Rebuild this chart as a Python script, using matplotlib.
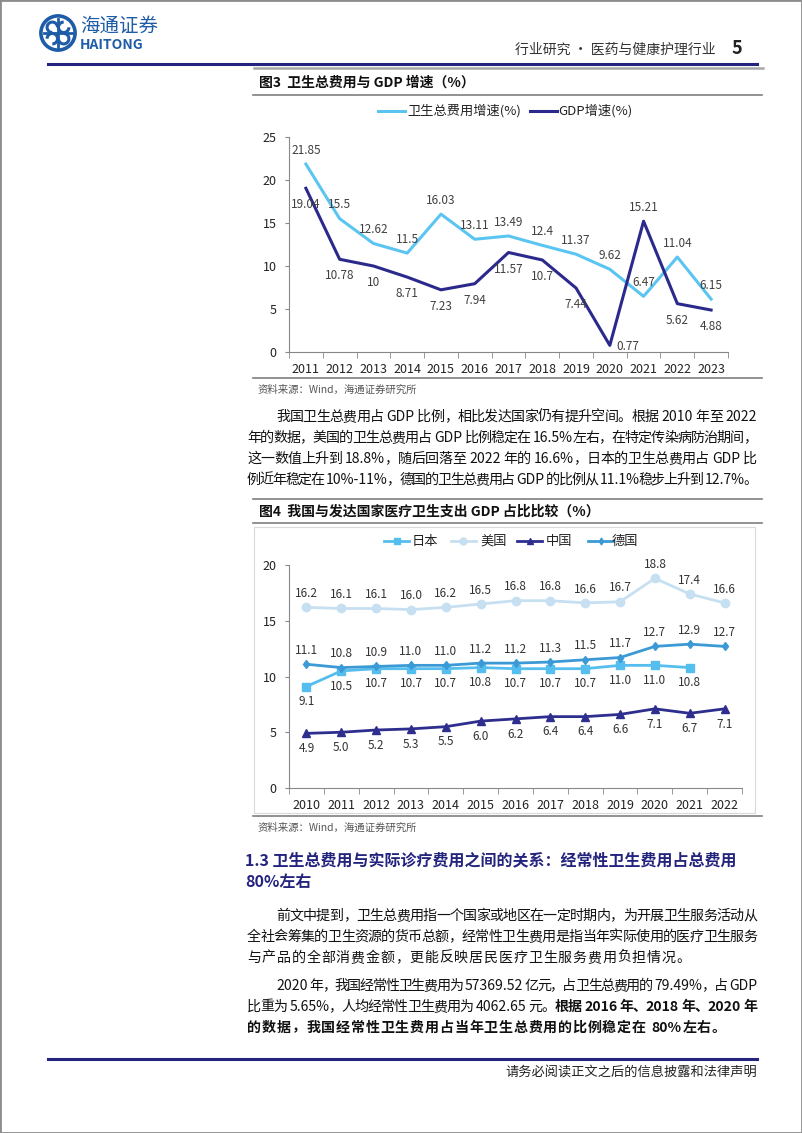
import re
import matplotlib
matplotlib.use('Agg')
import matplotlib.pyplot as plt
from matplotlib.lines import Line2D
from matplotlib.patches import Circle, Arc, Rectangle

plt.rcParams['font.family'] = ['Noto Sans CJK SC', 'DejaVu Sans']

# 图3 数据
years1 = ['2011', '2012', '2013', '2014', '2015', '2016', '2017', '2018', '2019', '2020', '2021', '2022', '2023']
health_growth = [21.85, 15.5, 12.62, 11.5, 16.03, 13.11, 13.49, 12.4, 11.37, 9.62, 6.47, 11.04, 6.15]
gdp_growth = [19.04, 10.78, 10, 8.71, 7.23, 7.94, 11.57, 10.7, 7.44, 0.77, 15.21, 5.62, 4.88]

# 图4 数据
years2 = ['2010', '2011', '2012', '2013', '2014', '2015', '2016', '2017', '2018', '2019', '2020', '2021', '2022']
japan = [9.1, 10.5, 10.7, 10.7, 10.7, 10.8, 10.7, 10.7, 10.7, 11.0, 11.0, 10.8]
usa = [16.2, 16.1, 16.1, 16.0, 16.2, 16.5, 16.8, 16.8, 16.6, 16.7, 18.8, 17.4, 16.6]
china = [4.9, 5.0, 5.2, 5.3, 5.5, 6.0, 6.2, 6.4, 6.4, 6.6, 7.1, 6.7, 7.1]
germany = [11.1, 10.8, 10.9, 11.0, 11.0, 11.2, 11.2, 11.3, 11.5, 11.7, 12.7, 12.9, 12.7]

W, H = 802, 1133
NAVY = '#24247E'
fig = plt.figure(figsize=(W / 100, H / 100), dpi=100)
renderer = fig.canvas.get_renderer()


def fx(x):
    return x / W


def fy(y):
    return 1 - y / H


def hline(x0, x1, y, color, lw):
    fig.add_artist(Line2D([fx(x0), fx(x1)], [fy(y), fy(y)], color=color, lw=lw))


def px_axes(x0, y0, x1, y1):
    return fig.add_axes([fx(x0), fy(y1), (x1 - x0) / W, (y1 - y0) / H])


def text_line(segs, x0, x1, y, size=10.1, justify=True, color='#111111'):
    # 简单的两端对齐：逐字放置
    toks = []
    for s, w in segs:
        for t in re.findall(r'\s+|[A-Za-z0-9.%\-]+|\S', s):
            toks.append((t, w))
    widths = []
    for t, w in toks:
        if t.isspace():
            widths.append(4.0)
        else:
            a = fig.text(0, 0, t, fontsize=size, fontweight=w)
            widths.append(a.get_window_extent(renderer).width)
            a.remove()
    gap = (x1 - x0 - sum(widths)) / (len(toks) - 1) if justify else 0.8
    x = x0
    for (t, w), wd in zip(toks, widths):
        if not t.isspace():
            fig.text(fx(x), fy(y + size * 0.45), t, fontsize=size, fontweight=w,
                     color=color, va='baseline', ha='left')
        x += wd + gap


# 页面边框
fig.add_artist(Rectangle((0, 0), 1, 1, transform=fig.transFigure, fill=False, ec='#8C8C8C', lw=2))

# 页眉 logo
lax = px_axes(39, 14, 77, 52)
lax.set_xlim(-1, 1)
lax.set_ylim(-1, 1)
lax.set_aspect('equal')
lax.axis('off')
blue = '#1E5CA8'
lax.add_patch(Circle((0, 0), 0.9, fill=False, ec=blue, lw=2.6))
for cx, cy, a in [(-0.3, 0.3, 0), (0.3, 0.3, 90), (0.3, -0.3, 180), (-0.3, -0.3, 270)]:
    lax.add_patch(Arc((cx, cy), 0.55, 0.55, theta1=a, theta2=a + 270, ec=blue, lw=2.2))
lax.plot([-0.75, 0.75], [0, 0], color=blue, lw=2)
lax.plot([0, 0], [-0.75, 0.75], color=blue, lw=2)
fig.text(fx(80), fy(26), '海通证券', fontsize=14, color=blue, va='center', ha='left', style='italic')
fig.text(fx(80), fy(45), 'HAITONG', fontsize=10, color=blue, va='center', ha='left', fontweight='bold')

fig.text(fx(716), fy(50), '行业研究 · 医药与健康护理行业', fontsize=10, color='#333333', va='center', ha='right')
fig.text(fx(737), fy(49), '5', fontsize=13, color='#222222', va='center', ha='center', fontweight='bold')
hline(48, 757, 64, NAVY, 2.2)
hline(254, 763, 68, '#A8A8A8', 1.8)

# ---------- 图3 ----------
fig.text(fx(259), fy(83), '图3  卫生总费用与 GDP 增速（%）', fontsize=10, fontweight='bold', va='center', ha='left', color='#111111')
hline(253, 762, 95, '#7F7F7F', 1.2)

c_health = '#5BC5F2'
c_gdp = '#2B2A8C'
fig.add_artist(Line2D([fx(378), fx(405)], [fy(111), fy(111)], color=c_health, lw=2.2))
fig.text(fx(407), fy(111), '卫生总费用增速(%)', fontsize=9.5, va='center', ha='left', color='#222222')
fig.add_artist(Line2D([fx(530), fx(557)], [fy(111), fy(111)], color=c_gdp, lw=2.2))
fig.text(fx(558), fy(111), 'GDP增速(%)', fontsize=9.5, va='center', ha='left', color='#222222')

ax1 = px_axes(289, 137, 728, 352)
x1 = range(len(years1))
ax1.plot(x1, health_growth, color=c_health, lw=2.2)
ax1.plot(x1, gdp_growth, color=c_gdp, lw=2.2)
ax1.set_xlim(-0.5, len(years1) - 0.5)
ax1.set_ylim(0, 25)
ax1.set_yticks([0, 5, 10, 15, 20, 25])
ax1.set_xticks(list(x1))
ax1.set_xticklabels(years1)
ax1.set_xticks([i - 0.5 for i in range(len(years1) + 1)], minor=True)
ax1.tick_params(axis='x', which='major', length=0, labelsize=9, pad=8, colors='#222222')
ax1.tick_params(axis='x', which='minor', length=4, color='#888888')
ax1.tick_params(axis='y', length=3, labelsize=9, color='#888888', labelcolor='#222222', pad=6)
for s in ['top', 'right']:
    ax1.spines[s].set_visible(False)
for s in ['left', 'bottom']:
    ax1.spines[s].set_color('#888888')
    ax1.spines[s].set_linewidth(0.8)
for i, v in enumerate(health_growth):
    ax1.annotate('%g' % v, (i, v), xytext=(0, 10), textcoords='offset points',
                 ha='center', va='center', fontsize=8.5, color='#404040')
for i, v in enumerate(gdp_growth):
    off = (0, -12)
    if years1[i] == '2021':
        off = (0, 10)
    elif years1[i] == '2020':
        off = (13, -1)
    ax1.annotate('%g' % v, (i, v), xytext=off, textcoords='offset points',
                 ha='center', va='center', fontsize=8.5, color='#404040')

hline(253, 762, 378, '#7F7F7F', 1.2)
fig.text(fx(258), fy(390), '资料来源：Wind，海通证券研究所', fontsize=7.5, color='#555555', va='center', ha='left')

# 正文段落 1
L, R = 247, 757
text_line([('我国卫生总费用占 GDP 比例，相比发达国家仍有提升空间。根据 2010 年至 2022', 'normal')], 276, R, 416)
text_line([('年的数据，美国的卫生总费用占 GDP 比例稳定在 16.5%左右，在特定传染病防治期间，', 'normal')], L, R, 437)
text_line([('这一数值上升到 18.8%，随后回落至 2022 年的 16.6%，日本的卫生总费用占 GDP 比', 'normal')], L, R, 458)
text_line([('例近年稳定在 10%-11%，德国的卫生总费用占 GDP 的比例从 11.1%稳步上升到 12.7%。', 'normal')], L, R, 479)

# ---------- 图4 ----------
hline(253, 762, 499, '#7F7F7F', 1.2)
fig.text(fx(259), fy(512), '图4  我国与发达国家医疗卫生支出 GDP 占比比较（%）', fontsize=10, fontweight='bold', va='center', ha='left', color='#111111')
hline(253, 762, 523, '#7F7F7F', 1.2)
fig.add_artist(Rectangle((fx(254), fy(813)), (755 - 254) / W, (813 - 527) / H, transform=fig.transFigure,
                         fill=False, ec='#DADADA', lw=0.8))

c_jp = '#56BEEE'
c_us = '#C6E0F2'
c_cn = '#2E2E8E'
c_de = '#3B9AD5'
series = [('日本', japan, c_jp, 's', 6, 384, 412),
          ('美国', usa, c_us, 'o', 6, 451, 480),
          ('中国', china, c_cn, '^', 6, 517, 546),
          ('德国', germany, c_de, 'd', 4.5, 588, 612)]

ax2 = px_axes(289, 565, 742, 788)
for name, vals, col, mk, ms, lx, tx in series:
    ax2.plot(range(len(vals)), vals, color=col, lw=2, marker=mk, ms=ms, mec=col, mfc=col)
    fig.add_artist(Line2D([fx(lx), fx(lx + 25)], [fy(541), fy(541)], color=col, lw=2))
    fig.add_artist(Line2D([fx(lx + 12.5)], [fy(541)], color=col, marker=mk, ms=ms - 1, mec=col, mfc=col))
    fig.text(fx(tx), fy(541), name, fontsize=9.5, va='center', ha='left', color='#222222')

ax2.set_xlim(-0.5, len(years2) - 0.5)
ax2.set_ylim(0, 20)
ax2.set_yticks([0, 5, 10, 15, 20])
ax2.set_xticks(list(range(len(years2))))
ax2.set_xticklabels(years2)
ax2.set_xticks([i - 0.5 for i in range(len(years2) + 1)], minor=True)
ax2.tick_params(axis='x', which='major', length=0, labelsize=9, pad=8, colors='#222222')
ax2.tick_params(axis='x', which='minor', length=4, color='#888888')
ax2.tick_params(axis='y', length=3, labelsize=9, color='#888888', labelcolor='#222222', pad=6)
for s in ['top', 'right']:
    ax2.spines[s].set_visible(False)
for s in ['left', 'bottom']:
    ax2.spines[s].set_color('#888888')
    ax2.spines[s].set_linewidth(0.8)

for vals, dy in [(usa, 10), (germany, 10), (japan, -11), (china, -11)]:
    for i, v in enumerate(vals):
        ax2.annotate(f'{v:.1f}', (i, v), xytext=(0, dy), textcoords='offset points',
                     ha='center', va='center', fontsize=8.5, color='#333333')

hline(253, 762, 816, '#7F7F7F', 1.2)
fig.text(fx(258), fy(828), '资料来源：Wind，海通证券研究所', fontsize=7.5, color='#555555', va='center', ha='left')

# 小节标题
fig.text(fx(245), fy(860), '1.3 卫生总费用与实际诊疗费用之间的关系：经常性卫生费用占总费用', fontsize=11.5,
         fontweight='bold', color=NAVY, va='center', ha='left')
fig.text(fx(245), fy(882), '80%左右', fontsize=11.5, fontweight='bold', color=NAVY, va='center', ha='left')

# 正文段落 2、3
text_line([('前文中提到，卫生总费用指一个国家或地区在一定时期内，为开展卫生服务活动从', 'normal')], 276, R, 915)
text_line([('全社会筹集的卫生资源的货币总额，经常性卫生费用是指当年实际使用的医疗卫生服务', 'normal')], L, R, 936)
text_line([('与产品的全部消费金额，更能反映居民医疗卫生服务费用负担情况。', 'normal')], L, R, 957, justify=False)
text_line([('2020 年，我国经常性卫生费用为 57369.52 亿元，占卫生总费用的 79.49%，占 GDP', 'normal')], 276, R, 985)
text_line([('比重为 5.65%，人均经常性卫生费用为 4062.65 元。', 'normal'),
           ('根据 2016 年、2018 年、2020 年', 'bold')], L, R, 1006)
text_line([('的数据，我国经常性卫生费用占当年卫生总费用的比例稳定在 80%左右。', 'bold')], L, R, 1027, justify=False)

# 页脚
hline(48, 757, 1059, NAVY, 2.2)
fig.text(fx(757), fy(1073), '请务必阅读正文之后的信息披露和法律声明', fontsize=9.5, color='#222222', va='center', ha='right')

fig.savefig('out.png', dpi=100)
